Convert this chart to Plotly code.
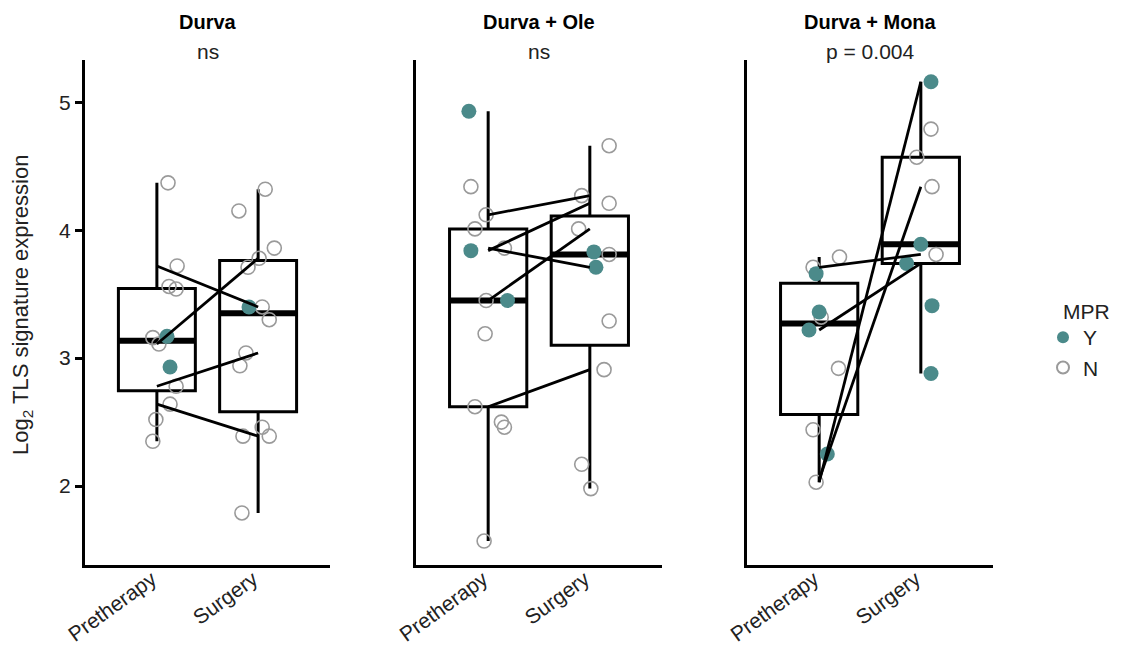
import numpy as np
import plotly.graph_objects as go

# ---- data -------------------------------------------------------------
panels = ["Durva", "Durva + Ole", "Durva + Mona"]
p_labels = ["ns", "ns", "p = 0.004"]
timepoints = ["Pretherapy", "Surgery"]

# TLS signature per sample (log2), MPR status per sample
durva_pre = [4.37, 3.72, 3.56, 3.54, 3.16, 3.17, 3.11, 2.93, 2.78, 2.64, 2.52, 2.35]
durva_pre_mpr = ["N", "N", "N", "N", "N", "Y", "N", "Y", "N", "N", "N", "N"]
durva_srg = [4.32, 4.15, 3.86, 3.78, 3.71, 3.40, 3.40, 3.30, 3.04, 2.94, 2.46, 2.39, 2.39, 1.79]
durva_srg_mpr = ["N", "N", "N", "N", "N", "Y", "N", "N", "N", "N", "N", "N", "N", "N"]

ole_pre = [4.93, 4.34, 4.12, 4.01, 3.86, 3.84, 3.45, 3.45, 3.19, 2.62, 2.50, 2.46, 1.57]
ole_pre_mpr = ["Y", "N", "N", "N", "N", "Y", "N", "Y", "N", "N", "N", "N", "N"]
ole_srg = [4.66, 4.27, 4.21, 4.01, 3.83, 3.81, 3.71, 3.29, 2.91, 2.17, 1.98]
ole_srg_mpr = ["N", "N", "N", "N", "Y", "N", "Y", "N", "N", "N", "N"]

mona_pre = [3.79, 3.71, 3.66, 3.36, 3.32, 3.22, 2.92, 2.44, 2.25, 2.03]
mona_pre_mpr = ["N", "N", "Y", "Y", "N", "Y", "N", "N", "Y", "N"]
mona_srg = [5.16, 4.79, 4.57, 4.34, 3.89, 3.81, 3.74, 3.41, 2.88]
mona_srg_mpr = ["Y", "N", "N", "N", "Y", "N", "Y", "Y", "Y"]

# paired patients (pretherapy -> surgery)
durva_pair_pre = [3.72, 3.11, 2.78, 2.64]
durva_pair_srg = [3.40, 3.78, 3.04, 2.39]
ole_pair_pre = [4.12, 3.84, 3.86, 3.45, 2.62]
ole_pair_srg = [4.27, 4.21, 3.71, 4.01, 2.91]
mona_pair_pre = [3.71, 3.22, 2.03, 2.05]
mona_pair_srg = [3.81, 3.74, 5.16, 4.34]

# horizontal jitter of the sample points
durva_pre_jit = [0.11, 0.20, 0.12, 0.19, -0.04, 0.10, 0.02, 0.13, 0.19, 0.13, -0.01, -0.04]
durva_srg_jit = [0.07, -0.19, 0.16, 0.01, -0.10, -0.09, 0.04, 0.11, -0.12, -0.18, 0.04, 0.11, -0.15, -0.16]
ole_pre_jit = [-0.19, -0.17, -0.02, -0.13, 0.16, -0.17, -0.02, 0.19, -0.03, -0.13, 0.13, 0.16, -0.04]
ole_srg_jit = [0.19, -0.08, 0.19, -0.11, 0.04, 0.19, 0.06, 0.19, 0.14, -0.08, 0.01]
mona_pre_jit = [0.20, -0.06, -0.03, 0.00, 0.02, -0.10, 0.19, -0.06, 0.08, -0.03]
mona_srg_jit = [0.10, 0.10, -0.04, 0.11, 0.00, 0.15, -0.14, 0.11, 0.10]

groups = [
    dict(pre=durva_pre, pre_mpr=durva_pre_mpr, pre_jit=durva_pre_jit,
         srg=durva_srg, srg_mpr=durva_srg_mpr, srg_jit=durva_srg_jit,
         pair_pre=durva_pair_pre, pair_srg=durva_pair_srg),
    dict(pre=ole_pre, pre_mpr=ole_pre_mpr, pre_jit=ole_pre_jit,
         srg=ole_srg, srg_mpr=ole_srg_mpr, srg_jit=ole_srg_jit,
         pair_pre=ole_pair_pre, pair_srg=ole_pair_srg),
    dict(pre=mona_pre, pre_mpr=mona_pre_mpr, pre_jit=mona_pre_jit,
         srg=mona_srg, srg_mpr=mona_srg_mpr, srg_jit=mona_srg_jit,
         pair_pre=mona_pair_pre, pair_srg=mona_pair_srg),
]


def box_stats(vals):
    """Tukey box statistics (type-7 quartiles, whiskers at 1.5 IQR)."""
    v = np.asarray(vals, dtype=float)
    q1, med, q3 = np.percentile(v, [25, 50, 75])
    iqr = q3 - q1
    lo = v[v >= q1 - 1.5 * iqr].min()
    hi = v[v <= q3 + 1.5 * iqr].max()
    return float(q1), float(med), float(q3), float(lo), float(hi)


# ---- style ------------------------------------------------------------
FONT = "Liberation Sans, Arial, sans-serif"
FS = 21
TEAL = "#4b8a8a"
GREY = "#9a9a9a"
BOX_W = 0.76
W, H = 1139, 645
M_L, M_R, M_T, M_B = 85, 146, 60, 80
plot_w = W - M_L - M_R
plot_h = H - M_T - M_B
domains = [(0.0, 245 / plot_w), (331 / plot_w, 577 / plot_w), (662 / plot_w, 1.0)]
YRANGE = [1.383, 5.33]


def px_x(px):
    return (px - M_L) / plot_w


def px_y(py):
    return (H - M_B - py) / plot_h


fig = go.Figure()

for i, g in enumerate(groups):
    xa = "x" if i == 0 else f"x{i + 1}"
    ya = "y" if i == 0 else f"y{i + 1}"

    # boxes
    for pos, vals in ((1, g["pre"]), (2, g["srg"])):
        q1, med, q3, lo, hi = box_stats(vals)
        fig.add_trace(go.Box(
            x=[pos], q1=[q1], median=[med], q3=[q3], lowerfence=[lo], upperfence=[hi],
            width=BOX_W, whiskerwidth=0, line=dict(color="black", width=3),
            fillcolor="rgba(255,255,255,0)", showlegend=False,
            xaxis=xa, yaxis=ya, hoverinfo="skip"))
        fig.add_trace(go.Scatter(
            x=[pos - BOX_W / 2, pos + BOX_W / 2], y=[med, med], mode="lines",
            line=dict(color="black", width=6), showlegend=False,
            xaxis=xa, yaxis=ya, hoverinfo="skip"))

    # sample points
    for pos, vals, mpr, jit in ((1, g["pre"], g["pre_mpr"], g["pre_jit"]),
                                (2, g["srg"], g["srg_mpr"], g["srg_jit"])):
        for status in ("N", "Y"):
            xs = [pos + j for j, s in zip(jit, mpr) if s == status]
            ys = [v for v, s in zip(vals, mpr) if s == status]
            if status == "Y":
                marker = dict(size=15, color=TEAL, line=dict(width=0))
            else:
                marker = dict(size=14, color="rgba(255,255,255,0)",
                              line=dict(color=GREY, width=1.6))
            fig.add_trace(go.Scatter(
                x=xs, y=ys, mode="markers", marker=marker, showlegend=False,
                xaxis=xa, yaxis=ya))

    # paired lines
    for a, b in zip(g["pair_pre"], g["pair_srg"]):
        fig.add_trace(go.Scatter(
            x=[1, 2], y=[a, b], mode="lines",
            line=dict(color="black", width=2.8), showlegend=False,
            xaxis=xa, yaxis=ya, hoverinfo="skip"))

# legend entries
fig.add_trace(go.Scatter(x=[None], y=[None], mode="markers", name="Y",
                         marker=dict(size=15, color=TEAL)))
fig.add_trace(go.Scatter(x=[None], y=[None], mode="markers", name="N",
                         marker=dict(size=14, color="rgba(255,255,255,0)",
                                     line=dict(color=GREY, width=1.6))))

layout = dict(
    width=W, height=H, margin=dict(l=M_L, r=M_R, t=M_T, b=M_B, autoexpand=False),
    plot_bgcolor="white", paper_bgcolor="white",
    font=dict(family=FONT, size=FS, color="#222"),
    legend=dict(x=px_x(1043), y=px_y(317), xanchor="left", yanchor="top",
                font=dict(size=FS), itemsizing="constant", itemwidth=30,
                tracegroupgap=0),
)
for i in range(3):
    sx = "" if i == 0 else str(i + 1)
    layout[f"xaxis{sx}"] = dict(
        domain=domains[i], range=[0.29, 2.71], tickvals=[1, 2], ticktext=timepoints,
        tickangle=-36, showline=True, linewidth=3, linecolor="black",
        ticks="", showgrid=False, zeroline=False, anchor=f"y{sx}", automargin=False,
        ticklabelstandoff=-9, ticklabelshift=-5,
        tickfont=dict(size=FS, color="#222"), fixedrange=True)
    layout[f"yaxis{sx}"] = dict(
        domain=[0, 1], range=YRANGE, anchor=f"x{sx}", showline=True, linewidth=3,
        linecolor="black", showgrid=False, zeroline=False, automargin=False,
        tickvals=[2, 3, 4, 5], ticks="outside" if i == 0 else "",
        ticklen=7, tickwidth=3, tickcolor="black",
        showticklabels=(i == 0), tickfont=dict(size=FS, color="#222"))
fig.update_layout(**layout)

annotations = []
for i in range(3):
    cx = (domains[i][0] + domains[i][1]) / 2
    annotations.append(dict(text=f"<b>{panels[i]}</b>", x=cx, y=px_y(22),
                            xref="paper", yref="paper", showarrow=False,
                            font=dict(size=20, color="black"),
                            xanchor="center", yanchor="middle"))
    annotations.append(dict(text=p_labels[i], x=cx, y=px_y(52),
                            xref="paper", yref="paper", showarrow=False,
                            font=dict(size=FS, color="#222"),
                            xanchor="center", yanchor="middle"))
annotations.append(dict(text="Log<sub>2</sub> TLS signature expression",
                        x=px_x(22), y=px_y(305),
                        xref="paper", yref="paper", showarrow=False, textangle=-90,
                        font=dict(size=22, color="#222"),
                        xanchor="center", yanchor="middle"))
annotations.append(dict(text="MPR", x=px_x(1061), y=px_y(311),
                        xref="paper", yref="paper", showarrow=False,
                        font=dict(size=FS, color="#222"),
                        xanchor="left", yanchor="middle"))
fig.update_layout(annotations=annotations)

fig.write_html("out.html")
